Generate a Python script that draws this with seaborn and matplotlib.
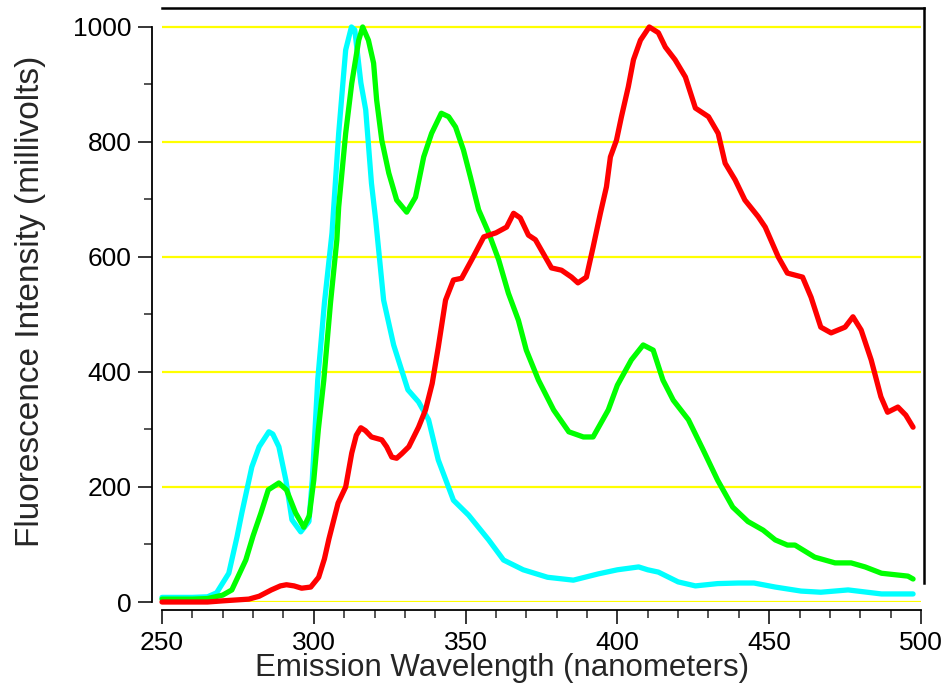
import matplotlib
matplotlib.use("Agg")
import matplotlib.pyplot as plt
from matplotlib.ticker import MultipleLocator
import pandas as pd
import seaborn as sns

sns.set_theme(style="ticks")
plt.rcParams["font.family"] = ["Liberation Sans", "DejaVu Sans"]

# emission spectra
cyan_nm = [250, 255, 260, 265, 268, 272, 274.7, 276.3, 279.6, 282, 285.2, 286.5, 288.5,
           290.8, 292.8, 295.7, 298.4, 299.5, 301.3, 303.5, 306, 308.2, 310.5, 312.4,
           313.5, 315.5, 317.1, 319, 320.4, 323, 326.3, 331, 334.5, 337.8, 341, 346,
           351, 357.6, 362.5, 369, 377, 385.5, 393.8, 400, 407, 410, 413.5, 420, 425.7,
           433, 439.8, 445, 452, 460.5, 467, 476, 487, 497.4]
cyan_mv = [8, 8, 8, 9, 16, 50, 113, 155, 235, 270, 296, 292, 270,
           212, 143, 122, 140, 212, 386, 520, 642, 815, 960, 1000,
           995, 903, 856, 728, 664, 525, 447, 369, 348, 317, 247, 177,
           151, 108, 73, 56, 43, 38, 49, 56, 61, 56, 52, 35, 28,
           32, 33, 33, 26, 19, 17, 21, 14, 14]

green_nm = [250, 260, 265, 270, 273, 277.6, 280, 282.6, 285, 288.5, 291, 294, 296.7,
            298.5, 300, 301.5, 303.3, 305.5, 307.6, 308.2, 310.5, 312.5, 314.8, 316.1,
            318, 319.7, 320.7, 322.4, 324.7, 327.3, 330.6, 333.5, 336.2, 338.8, 342,
            344.4, 346.7, 349.3, 351.6, 354.3, 357.6, 360.9, 364.1, 367.4, 370, 374,
            379, 384, 388.8, 392, 397, 400, 404.6, 408.5, 411.8, 415, 418.4, 423.4,
            428.3, 433, 438, 443, 448, 452, 456, 458.5, 465, 471.7, 477, 481.6, 487,
            495.7, 497.4]
green_mv = [5, 5, 6, 12, 21, 73, 115, 155, 195, 207, 195, 155, 130,
            150, 212, 300, 386, 520, 630, 687, 815, 902, 977, 1000,
            977, 937, 873, 803, 746, 699, 678, 704, 774, 815, 850,
            844, 826, 786, 739, 682, 642, 595, 537, 490, 438, 386,
            334, 296, 287, 287, 334, 377, 421, 447, 438, 386, 351, 317,
            264, 212, 165, 140, 125, 108, 99, 99, 78, 68, 68, 61, 50,
            45, 40]

red_nm = [250, 260, 265, 270, 278.6, 282, 286, 289, 291, 293.5, 296, 299, 301.6,
          303.5, 305, 308, 310.5, 312.5, 314, 315.5, 317, 319, 322.4, 324, 325.7,
          327.3, 329, 331.3, 334.5, 336.8, 339, 341, 343.4, 346, 348.7, 352, 356,
          360, 363.5, 365.8, 368, 370.7, 373, 378.3, 381.6, 384.9, 387, 389.8, 392,
          394.4, 396.4, 397.7, 399.7, 401.3, 403.6, 405.3, 407.6, 410.5, 413.5,
          415.8, 419, 422.4, 425.7, 430, 433.2, 435.5, 438.8, 442, 446.4, 448.7,
          453, 456, 461, 463.8, 467, 470.4, 475, 477.6, 480.3, 483.6, 486.8, 489,
          492.4, 495, 497.4]
red_mv = [0, 0, 0, 2, 5, 10, 21, 28, 30, 28, 24, 26, 43,
          75, 110, 172, 200, 259, 290, 303, 298, 287, 282, 270, 252,
          250, 258, 270, 304, 334, 380, 443, 525, 560, 563, 595, 635,
          642, 652, 676, 668, 638, 630, 581, 577, 565, 555, 565, 617,
          676, 722, 774, 803, 843, 896, 943, 977, 1000, 990,
          965, 943, 913, 859, 844, 815, 763, 734, 699, 670, 652,
          600, 572, 565, 530, 478, 468, 478, 496, 473, 421, 357, 330,
          339, 325, 304]

series_colors = {"cyan": "#00ffff", "green": "#00ff00", "red": "#ff0000"}
y_ticks = [0, 200, 400, 600, 800, 1000]

df = pd.concat([
    pd.DataFrame({"nm": cyan_nm, "mv": cyan_mv, "sample": "cyan"}),
    pd.DataFrame({"nm": green_nm, "mv": green_mv, "sample": "green"}),
    pd.DataFrame({"nm": red_nm, "mv": red_mv, "sample": "red"}),
])

fig = plt.figure(figsize=(9.5, 6.83), dpi=100)
ax = fig.add_axes([162 / 950, 1 - 602 / 683, (924 - 162) / 950, (602 - 8) / 683])

ax.hlines(y_ticks, 250, 500, color="#ffff00", lw=1.6, zorder=0)

sns.lineplot(data=df, x="nm", y="mv", hue="sample", palette=series_colors,
             sort=False, estimator=None, lw=3.8, legend=False, ax=ax)
for line in ax.lines:
    line.set_clip_on(False)
    line.set_solid_capstyle("round")
    line.set_solid_joinstyle("round")

ax.set_xlim(250, 501)
ax.set_ylim(0, 1033)
ax.set_xticks([250, 300, 350, 400, 450, 500])
ax.set_yticks(y_ticks)
ax.xaxis.set_minor_locator(MultipleLocator(10))
ax.yaxis.set_minor_locator(MultipleLocator(100))
ax.tick_params(which="major", length=10, width=1.1, labelsize=19, pad=5, colors="black")
ax.tick_params(which="minor", length=5.5, width=1.1)

for side in ["left", "bottom", "right", "top"]:
    ax.spines[side].set_color("black")
    ax.spines[side].set_linewidth(1.3)
ax.spines["left"].set_position(("outward", 7))
ax.spines["bottom"].set_position(("outward", 6))
ax.spines["left"].set_bounds(0, 1000)
ax.spines["bottom"].set_bounds(250, 500)
ax.spines["right"].set_bounds(33, 1033)
ax.spines["top"].set_linewidth(1.8)
ax.spines["right"].set_linewidth(1.8)

ax.set_xlabel("Emission Wavelength (nanometers)", fontsize=22.5)
ax.set_ylabel("Fluorescence Intensity (millivolts)", fontsize=24)
ax.xaxis.set_label_coords(0.446, -0.086)
ax.yaxis.set_label_coords(-0.152, 0.507)
ax.set_facecolor("white")

fig.savefig("out.png", dpi=100)
plt.close(fig)
